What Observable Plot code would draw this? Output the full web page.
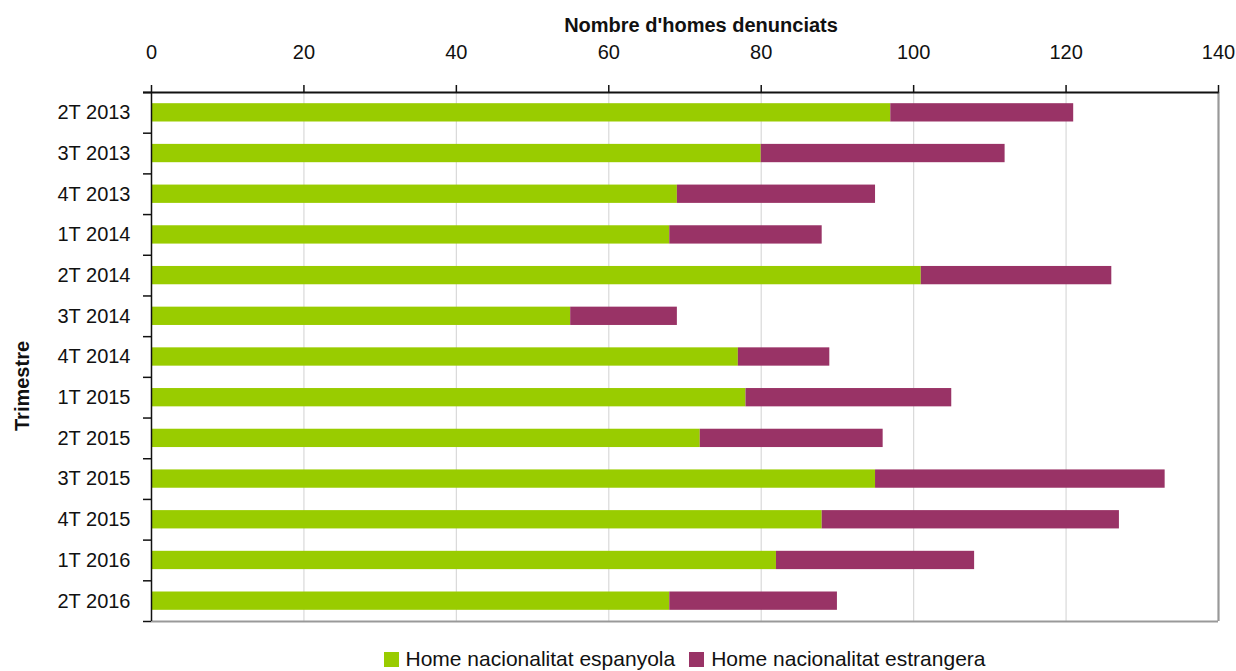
<!DOCTYPE html>
<html>
<head>
<meta charset="utf-8">
<script src="https://cdn.jsdelivr.net/npm/d3@7"></script>
<script src="https://cdn.jsdelivr.net/npm/@observablehq/plot@0.6"></script>
<style>
  body { margin: 0; background: #fff; font-family: "Liberation Sans", Arial, sans-serif; }
  #chart svg { display: block; font-family: "Liberation Sans", Arial, sans-serif; }
  #legend { height: 38px; box-sizing: border-box; padding-left: 151px; padding-right: 18px; display: flex; justify-content: center; align-items: center; font-size: 21px; color: #111; }
  .item { display: flex; align-items: center; margin: 0 7px; }
  .sw { width: 15px; height: 15px; display: inline-block; margin-right: 7px; }
</style>
</head>
<body>
<div id="chart"></div>
<div id="legend"></div>
<script>
const trimestres = ["2T 2013","3T 2013","4T 2013","1T 2014","2T 2014","3T 2014","4T 2014","1T 2015","2T 2015","3T 2015","4T 2015","1T 2016","2T 2016"];
const espanyola  = [97, 80, 69, 68, 101, 55, 77, 78, 72, 95, 88, 82, 68];
const estrangera = [24, 32, 26, 20, 25, 14, 12, 27, 24, 38, 39, 26, 22];
const seriesNames = ["Home nacionalitat espanyola", "Home nacionalitat estrangera"];
const seriesColors = ["#99cc00", "#993366"];
const xTicks = [0, 20, 40, 60, 80, 100, 120, 140];
const gridTicks = [20, 40, 60, 80, 100, 120];

const data = [];
trimestres.forEach((t, i) => {
  data.push({trimestre: t, serie: seriesNames[0], valor: espanyola[i]});
  data.push({trimestre: t, serie: seriesNames[1], valor: estrangera[i]});
});

const W = 1236, H = 640, mTop = 92, mBottom = H - 621, mLeft = 151, mRight = W - 1218;
const step = (H - mTop - mBottom) / trimestres.length;

const chart = Plot.plot({
  width: W,
  height: H,
  marginTop: mTop,
  marginBottom: mBottom,
  marginLeft: mLeft,
  marginRight: mRight,
  style: {fontSize: "20px", color: "#111", background: "#fff"},
  x: {domain: [0, 140], axis: null},
  y: {domain: trimestres, paddingInner: 0.55, paddingOuter: 0.275, round: false, axis: null},
  color: {domain: seriesNames, range: seriesColors},
  marks: [
    Plot.ruleX(gridTicks, {stroke: "#d9d9d9", strokeWidth: 1.2}),
    Plot.barX(data, Plot.stackX({y: "trimestre", x: "valor", fill: "serie", order: seriesNames})),
    Plot.axisX({anchor: "top", ticks: xTicks, tickSize: 8, tickPadding: 26, label: null, fontSize: 20, stroke: "#111", strokeWidth: 1.5}),
    Plot.axisY({ticks: trimestres, tickSize: 0, tickPadding: 21, label: null, fontSize: 20}),
    // category boundary ticks on the left axis
    Plot.ruleY(trimestres, {y: d => d, x1: -1.05, x2: 0, dy: -step / 2, stroke: "#111", strokeWidth: 1.5}),
    Plot.ruleY([trimestres[trimestres.length - 1]], {y: d => d, x1: -1.05, x2: 0, dy: step / 2, stroke: "#111", strokeWidth: 1.5}),
    // frame lines
    Plot.ruleY([trimestres[trimestres.length - 1]], {y: d => d, x1: 0, x2: 140, dy: step / 2, stroke: "#999", strokeWidth: 2.2}),
    Plot.ruleX([140], {stroke: "#999", strokeWidth: 2.2}),
    Plot.ruleY([trimestres[0]], {y: d => d, x1: -1.05, x2: 140.1, dy: -step / 2, stroke: "#111", strokeWidth: 2.2}),
    Plot.ruleX([0], {stroke: "#111", strokeWidth: 1.5}),
    // titles
    Plot.text(["Nombre d'homes denunciats"], {frameAnchor: "top", dx: 16, dy: -75, fontWeight: "bold", fontSize: 20, fill: "#111"}),
    Plot.text(["Trimestre"], {frameAnchor: "left", dx: -129, dy: 74, rotate: -90, fontWeight: "bold", fontSize: 20, fill: "#111"})
  ]
});
document.getElementById("chart").appendChild(chart);

const legend = document.getElementById("legend");
seriesNames.forEach((n, i) => {
  const it = document.createElement("span");
  it.className = "item";
  const sw = document.createElement("span");
  sw.className = "sw";
  sw.style.background = seriesColors[i];
  it.appendChild(sw);
  it.appendChild(document.createTextNode(n));
  legend.appendChild(it);
});
</script>
</body>
</html>
